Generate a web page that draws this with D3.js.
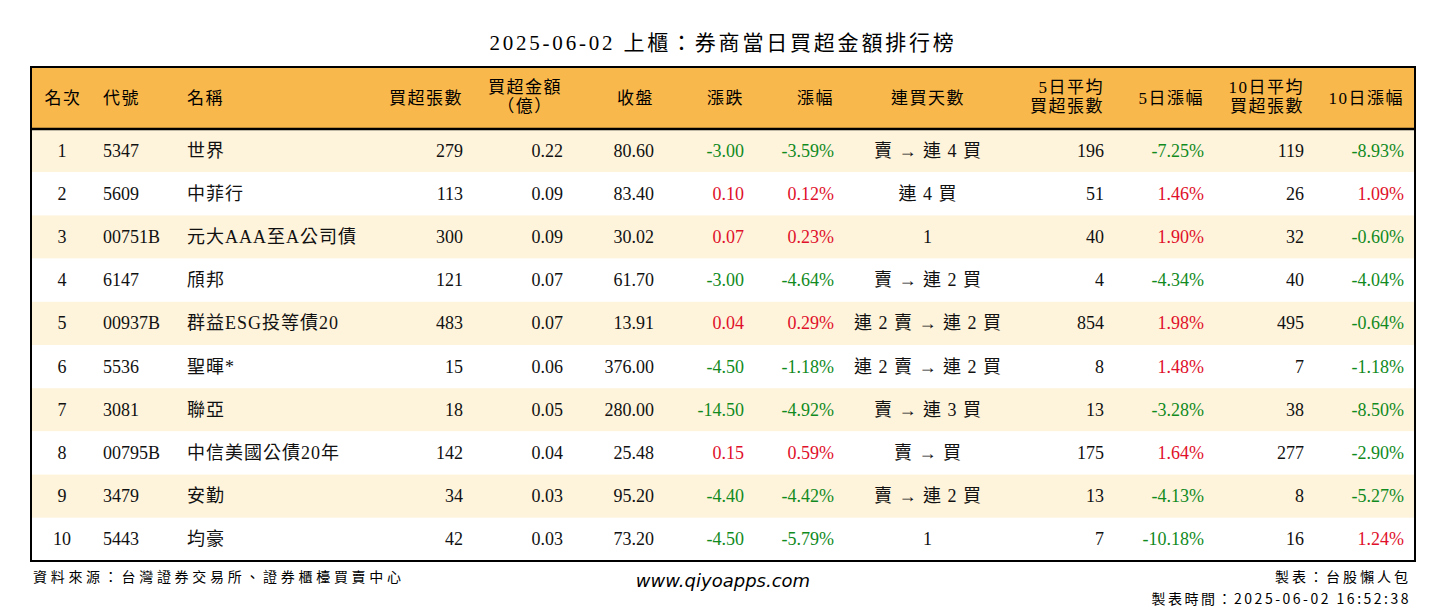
<!DOCTYPE html>
<html><head><meta charset="utf-8">
<script src="https://cdn.jsdelivr.net/npm/d3@7"></script>
<style>body{margin:0;background:#fff}</style></head>
<body><svg id="c" width="1446" height="612"></svg>
<script>
const title = "2025-06-02 上櫃：券商當日買超金額排行榜";
const ranks = [1,2,3,4,5,6,7,8,9,10];
const codes = ["5347","5609","00751B","6147","00937B","5536","3081","00795B","3479","5443"];
const names = ["世界","中菲行","元大AAA至A公司債","頎邦","群益ESG投等債20","聖暉*","聯亞","中信美國公債20年","安勤","均豪"];
const buyLots = [279,113,300,121,483,15,18,142,34,42];
const buyAmt = ["0.22","0.09","0.09","0.07","0.07","0.06","0.05","0.04","0.03","0.03"];
const close = ["80.60","83.40","30.02","61.70","13.91","376.00","280.00","25.48","95.20","73.20"];
const chg = ["-3.00","0.10","0.07","-3.00","0.04","-4.50","-14.50","0.15","-4.40","-4.50"];
const chgPct = ["-3.59%","0.12%","0.23%","-4.64%","0.29%","-1.18%","-4.92%","0.59%","-4.42%","-5.79%"];
const streak = ["賣 → 連 4 買","連 4 買","1","賣 → 連 2 買","連 2 賣 → 連 2 買","連 2 賣 → 連 2 買","賣 → 連 3 買","賣 → 買","賣 → 連 2 買","1"];
const avg5 = [196,51,40,4,854,8,13,175,13,7];
const pct5 = ["-7.25%","1.46%","1.90%","-4.34%","1.98%","1.48%","-3.28%","1.64%","-4.13%","-10.18%"];
const avg10 = [119,26,32,40,495,7,38,277,8,16];
const pct10 = ["-8.93%","1.09%","-0.60%","-4.04%","-0.64%","-1.18%","-8.50%","-2.90%","-5.27%","1.24%"];
const headers = [["名次"],["代號"],["名稱"],["買超張數"],["買超金額","（億）"],["收盤"],["漲跌"],["漲幅"],["連買天數"],["5日平均","買超張數"],["5日漲幅"],["10日平均","買超張數"],["10日漲幅"]];

const svg = d3.select("#c");
const font = "'Liberation Serif','Noto Sans CJK TC',serif";
const L=31, R=1415, T=67, HB=129, B=561;
const y = d3.scaleBand().domain(d3.range(10)).range([HB,B]);
const cols = [
 {x:62,a:"middle",hx:63,ha:"middle"},
 {x:103,a:"start",hx:103,ha:"start"},
 {x:187,a:"start",hx:187,ha:"start"},
 {x:463,a:"end",hx:463,ha:"end"},
 {x:563,a:"end",hx:525,ha:"middle"},
 {x:654,a:"end",hx:654,ha:"end"},
 {x:744,a:"end",hx:744,ha:"end"},
 {x:834,a:"end",hx:834,ha:"end"},
 {x:928,a:"middle",hx:928,ha:"middle"},
 {x:1104,a:"end",hx:1104,ha:"end"},
 {x:1204,a:"end",hx:1204,ha:"end"},
 {x:1304,a:"end",hx:1304,ha:"end"},
 {x:1404,a:"end",hx:1404,ha:"end"}
];
svg.append("text").attr("x",723).attr("y",50).attr("text-anchor","middle")
 .attr("font-family",font).attr("font-size",21).attr("letter-spacing",2.8).text(title);
svg.append("rect").attr("x",L).attr("y",T).attr("width",R-L).attr("height",HB-T).attr("fill","#F8B84B");
svg.selectAll("rect.row").data(d3.range(10)).enter().append("rect")
 .attr("x",L).attr("y",i=>y(i)).attr("width",R-L).attr("height",y.bandwidth())
 .attr("fill",i=>i%2===0?"#FEF4DC":"#fff");
headers.forEach((h,j)=>{
  const t = svg.append("text").attr("text-anchor",cols[j].ha).attr("font-family",font).attr("font-size",17).attr("letter-spacing",1.5);
  if(h.length===1){ t.attr("x",cols[j].hx).attr("y",104).text(h[0]); }
  else { h.forEach((s,k)=>t.append("tspan").attr("x",cols[j].hx).attr("y",93+k*19).text(s)); }
});
const color = v => v.startsWith("-") ? "#118a1e" : "#e0102a";
const rows = d3.range(10).map(i=>[
 [String(ranks[i]),"#111"],[codes[i],"#111"],[names[i],"#111"],[String(buyLots[i]),"#111"],
 [buyAmt[i],"#111"],[close[i],"#111"],[chg[i],color(chg[i])],[chgPct[i],color(chgPct[i])],
 [streak[i],"#111"],[String(avg5[i]),"#111"],[pct5[i],color(pct5[i])],[String(avg10[i]),"#111"],[pct10[i],color(pct10[i])]
]);
rows.forEach((r,i)=>r.forEach(([v,c],j)=>{
  svg.append("text").attr("x",cols[j].x).attr("y",y(i)+y.bandwidth()/2+6)
   .attr("text-anchor",cols[j].a).attr("font-family",font).attr("font-size",18)
   .attr("letter-spacing",(j===2||j===8)?1:0)
   .attr("fill",c).text(v);
}));
svg.append("rect").attr("x",L).attr("y",T).attr("width",R-L).attr("height",B-T)
 .attr("fill","none").attr("stroke","#000").attr("stroke-width",2);
svg.append("line").attr("x1",L).attr("x2",R).attr("y1",HB).attr("y2",HB).attr("stroke","#000").attr("stroke-width",2.5);
const sf = "'Noto Sans CJK TC','DejaVu Sans',sans-serif";
svg.append("text").attr("x",33).attr("y",582).attr("font-family",sf).attr("font-size",14).attr("letter-spacing",3.7).text("資料來源：台灣證券交易所、證券櫃檯買賣中心");
svg.append("text").attr("x",723).attr("y",587).attr("text-anchor","middle").attr("font-family","'DejaVu Sans',sans-serif").attr("font-style","italic").attr("font-size",18).text("www.qiyoapps.com");
svg.append("text").attr("x",1411).attr("y",582).attr("text-anchor","end").attr("font-family",sf).attr("font-size",14).attr("letter-spacing",3).text("製表：台股懶人包");
svg.append("text").attr("x",1411).attr("y",604).attr("text-anchor","end").attr("font-family",sf).attr("font-size",14).attr("letter-spacing",2.5).text("製表時間：2025-06-02 16:52:38");
</script></body></html>
